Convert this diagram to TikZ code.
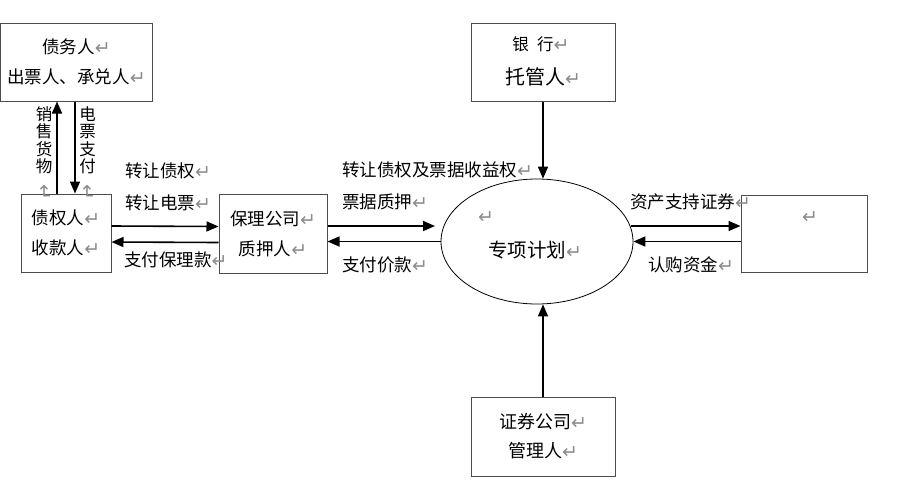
\documentclass[tikz,border=0pt]{standalone}
\usepackage{fontspec}
\usepackage{graphicx}
\setmainfont{Noto Sans CJK SC}
\newfontfamily\symf{DejaVu Sans}
\usetikzlibrary{arrows.meta,shapes.geometric}
\definecolor{markgray}{HTML}{8C8C8C}
\newcommand\rt{{\color{markgray}\symf\fontsize{19}{19}\selectfont\raisebox{-1pt}{↵}}}
\newcommand\rtv{{\color{markgray}\rotatebox{-90}{\symf\fontsize{19}{19}\selectfont ↵}}}
\begin{document}
\begin{tikzpicture}[x=1pt,y=-1pt,
 box/.style={draw=black!70, line width=1pt, inner sep=0pt, align=center, font=\fontsize{17.5}{30}\selectfont},
 arr/.style={-{Triangle[length=12pt,width=10pt]}, line width=1.6pt},
 lbl/.style={inner sep=0pt, anchor=west, font=\fontsize{17.5}{17.5}\selectfont},
 vlbl/.style={inner sep=0pt, anchor=north, align=center, font=\fontsize{16.5}{17.5}\selectfont}]
\useasboundingbox (0,0) rectangle (906,491);
% boxes
\node[box, minimum width=152pt, minimum height=78pt] (debtor) at (76.5,62) {债务人\rt\\出票人、承兑人\rt};
\node[box, minimum width=90pt, minimum height=78pt] (creditor) at (66,233) {债权人\rt\\收款人\rt};
\node[box, minimum width=108pt, minimum height=79pt] (factor) at (273,233.5) {保理公司\rt\\质押人\rt};
\node[box, minimum width=144pt, minimum height=78pt] (bank) at (543,62) {};
\node[inner sep=0pt, font=\fontsize{16.5}{16.5}\selectfont] (banka) at (541,44) {银\hspace{0.5em}行\rt};
\node[inner sep=0pt, font=\fontsize{20}{20}\selectfont] (bankb) at (543,77) {托管人\rt};
\node[box, minimum width=144pt, minimum height=79pt, font=\fontsize{18}{29}\selectfont] (sec) at (543,436.5) {证券公司\rt\\管理人\rt};
\node[box, minimum width=126pt, minimum height=77pt] (inv) at (804,233.5) {};
\node[inner sep=0pt] (invmark) at (810,218) {\rt};
% ellipse
\node[ellipse, draw, line width=0.8pt, minimum width=192pt, minimum height=125pt, inner sep=0pt] (plan) at (537,241.5) {};
\node[inner sep=0pt, font=\fontsize{19.5}{19.5}\selectfont] (plantext) at (535,250) {专项计划\rt};
\node[inner sep=0pt] (planmark) at (486,218) {\rt};
% coordinates
\coordinate (vx1) at (57,0);
\coordinate (vx2) at (75,0);
\coordinate (pe1) at (435,226);
\coordinate (pr1) at (631,226);
% vertical arrows
\draw[arr] (creditor.north -| vx1) -- (debtor.south -| vx1);
\draw[arr] (debtor.south -| vx2) -- (creditor.north -| vx2);
\draw[arr] (bank.south) -- (bank.south |- plan.north);
\draw[arr] (sec.north) -- (sec.north |- plan.south);
% horizontal arrows
\draw[arr] ([yshift=7pt]creditor.east) -- ([yshift=7pt]factor.west);
\draw[arr] ([yshift=-9pt]factor.west) -- ([yshift=-9pt]creditor.east);
\draw[arr] (factor.east |- pe1) -- (pe1);
\draw[arr] (plan.west) -- (factor.east |- plan.west);
\draw[arr] (pr1) -- (inv.west |- pr1);
\draw[arr] (inv.west |- plan.east) -- (plan.east);
% labels
\node[vlbl] (v1) at (44,106) {销\\售\\货\\物\\[-6pt]\rtv};
\node[vlbl] (v2) at (87.5,106) {电\\票\\支\\付\\[-6pt]\rtv};
\node[lbl] (l1) at (125,171) {转让债权\rt};
\node[lbl] (l2) at (125,203) {转让电票\rt};
\node[lbl] (l3) at (124,260) {支付保理款\rt};
\node[lbl] (l4) at (342,170) {转让债权及票据收益权\rt};
\node[lbl] (l5) at (342,202) {票据质押\rt};
\node[lbl] (l6) at (342,265) {支付价款\rt};
\node[lbl] (l7) at (630,202) {资产支持证券\rt};
\node[lbl] (l8) at (648,265) {认购资金\rt};
\end{tikzpicture}
\end{document}
